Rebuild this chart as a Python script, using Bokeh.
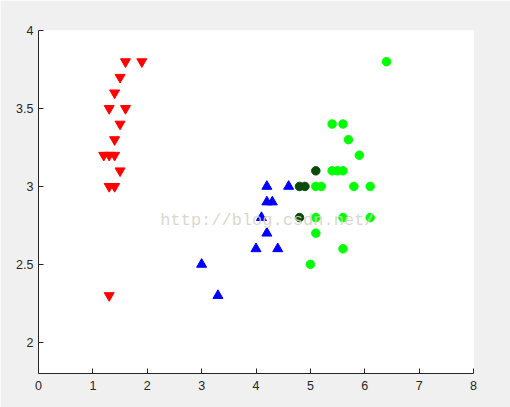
from bokeh.plotting import figure
from bokeh.models import Label, Range1d, FixedTicker
from bokeh.embed import file_html
from bokeh.resources import INLINE

# Cluster 1 (red, inverted triangles)
red_x = [1.6, 1.9, 1.5, 1.4, 1.3, 1.6, 1.5, 1.4, 1.2, 1.3, 1.4, 1.5, 1.3, 1.4, 1.3]
red_y = [3.8, 3.8, 3.7, 3.6, 3.5, 3.5, 3.4, 3.3, 3.2, 3.2, 3.2, 3.1, 3.0, 3.0, 2.3]

# Cluster 2 (blue, triangles)
blue_x = [4.2, 4.6, 4.2, 4.3, 4.1, 4.2, 4.0, 4.4, 3.0, 3.3]
blue_y = [3.0, 3.0, 2.9, 2.9, 2.8, 2.7, 2.6, 2.6, 2.5, 2.3]

# Cluster 3 (green, circles)
green_x = [6.4, 5.4, 5.6, 5.7, 5.9, 5.4, 5.5, 5.6, 5.1, 5.2, 5.8, 6.1, 5.1, 5.6, 6.1, 5.1, 5.6, 5.0]
green_y = [3.8, 3.4, 3.4, 3.3, 3.2, 3.1, 3.1, 3.1, 3.0, 3.0, 3.0, 3.0, 2.8, 2.8, 2.8, 2.7, 2.6, 2.5]

# Dark green points
dark_x = [4.8, 4.9, 5.1, 4.8]
dark_y = [3.0, 3.0, 3.1, 2.8]

x_ticks = [0, 1, 2, 3, 4, 5, 6, 7, 8]
y_ticks = [2, 2.5, 3, 3.5, 4]

p = figure(width=510, height=407, output_backend="svg", toolbar_location=None,
           x_range=Range1d(0, 8), y_range=Range1d(1.8, 4),
           min_border_left=38, min_border_top=30, min_border_right=37, min_border_bottom=34)
p.border_fill_color = "#f0f0f0"
p.background_fill_color = "white"
p.outline_line_color = None
p.xgrid.visible = False
p.ygrid.visible = False

for ax in (p.xaxis[0], p.yaxis[0]):
    ax.axis_line_color = "#262626"
    ax.major_tick_line_color = "#262626"
    ax.major_tick_in = 5
    ax.major_tick_out = 0
    ax.minor_tick_line_color = None
    ax.major_label_text_font = "Liberation Sans"
    ax.major_label_text_font_size = "12.5px"
    ax.major_label_text_color = "#262626"
p.xaxis[0].ticker = FixedTicker(ticks=x_ticks)
p.yaxis[0].ticker = FixedTicker(ticks=y_ticks)
p.xaxis[0].major_label_standoff = 7
p.yaxis[0].major_label_standoff = 5

p.scatter(red_x, red_y, marker="inverted_triangle", size=10, color="#ff0000")
p.scatter(blue_x, blue_y, marker="triangle", size=10, color="#0000ff")
p.scatter(green_x, green_y, marker="circle", size=8.5, color="#00ff00")
p.scatter(dark_x, dark_y, marker="circle", size=8.5, color="#0a4a0a")

p.add_layout(Label(x=2.24, y=2.78, text="http://blog.csdn.net/", text_font="Liberation Mono",
                   text_font_size="17px", text_color="#d6d2ca", text_alpha=0.9,
                   text_baseline="alphabetic"))

html = file_html(p, INLINE)
html = html.replace("<body>", '<body style="background:#f0f0f0">', 1)
open("out.html", "w").write(html)
